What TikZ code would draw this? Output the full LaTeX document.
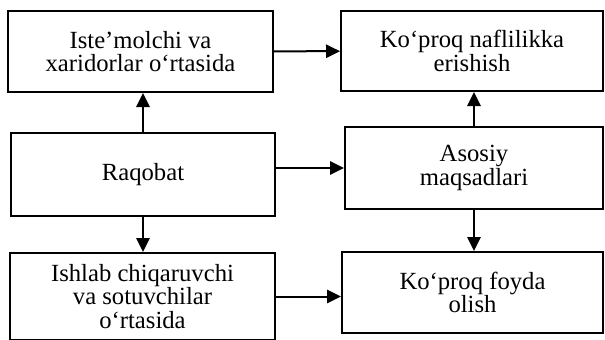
\documentclass[tikz,border=0pt]{standalone}
\usepackage{fontspec}
\setmainfont{Liberation Serif}
\usetikzlibrary{arrows.meta}
\begin{document}
\begin{tikzpicture}[x=0.75pt,y=-0.75pt,
  box/.style={draw, line width=1.5pt, align=center, inner sep=0pt,
    font=\fontsize{18.5}{17.5}\selectfont},
  arr/.style={line width=1.5pt, -{Triangle[length=10.5pt,width=10pt]}}]
\useasboundingbox (0,0) rectangle (605,339);
\node[box, minimum width=198.75pt, minimum height=60.75pt] (tl) at (140.5,51.5)
  {Iste’molchi va\\xaridorlar o‘rtasida};
\node[box, minimum width=196.5pt, minimum height=60pt] (tr) at (472,51)
  {Ko‘proq naflilikka\\erishish};
\node[box, minimum width=198pt, minimum height=62.25pt] (ml) at (143,174.5)
  {Raqobat};
\node[box, minimum width=193.5pt, minimum height=61.5pt] (mr) at (474,168)
  {Asosiy\\maqsadlari};
\node[box, minimum width=198.75pt, minimum height=65.25pt] (bl) at (142.5,296.5)
  {Ishlab chiqaruvchi\\va sotuvchilar\\o‘rtasida};
\node[box, minimum width=195.75pt, minimum height=60.75pt] (br) at (472.5,292.5)
  {Ko‘proq foyda\\olish};
\draw[arr] (tl) -- (tr);
\draw[arr] (ml.east |- mr.west) -- (mr.west);
\draw[arr] (bl.east) -- (bl.east -| br.west);
\draw[arr] (ml.north) -- (ml.north |- tl.south);
\draw[arr] (ml.south) -- (ml.south |- bl.north);
\draw[arr] (mr.north) -- (mr.north |- tr.south);
\draw[arr] (mr.south) -- (mr.south |- br.north);
\end{tikzpicture}
\end{document}
